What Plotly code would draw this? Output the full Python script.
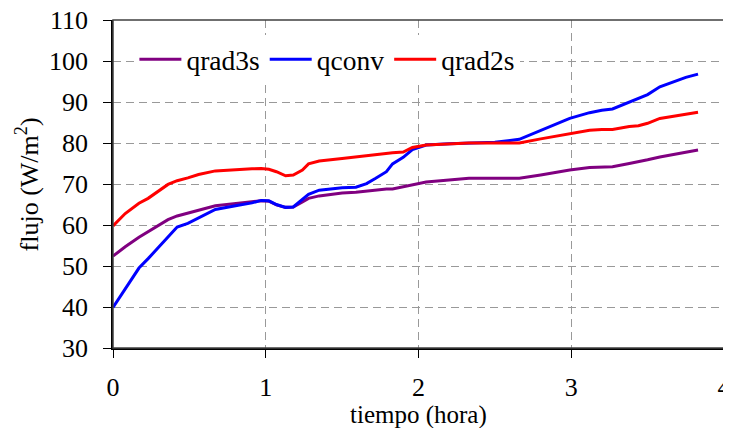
import plotly.graph_objects as go

tiempo = [0, 0.08, 0.17, 0.23, 0.36, 0.42, 0.49, 0.56, 0.67, 0.82, 0.91, 0.97, 1.02, 1.07,
          1.13, 1.18, 1.24, 1.28, 1.35, 1.5, 1.59, 1.66, 1.72, 1.79, 1.83, 1.9, 1.96, 2.05,
          2.2, 2.33, 2.5, 2.66, 2.8, 2.99, 3.12, 3.2, 3.27, 3.38, 3.44, 3.5, 3.58, 3.68,
          3.75, 3.83]

qrad3s = [52.4, 54.7, 57.0, 58.3, 61.3, 62.2, 62.9, 63.6, 64.7, 65.3, 65.6, 65.9, 65.8, 64.9,
          64.3, 64.4, 65.6, 66.5, 67.1, 67.8, 68.0, 68.3, 68.5, 68.8, 68.8, 69.3, 69.8, 70.5,
          71.0, 71.4, 71.4, 71.4, 72.2, 73.4, 74.0, 74.2, 74.2, 75.0, 75.4, 75.9, 76.6, 77.3,
          77.8, 78.3]

qconv = [39.9, 44.5, 49.5, 51.8, 57.0, 59.5, 60.4, 61.8, 63.8, 64.8, 65.4, 66.0, 65.9, 65.0,
         64.3, 64.4, 66.2, 67.5, 68.5, 69.1, 69.2, 70.1, 71.4, 73.0, 74.9, 76.5, 78.4, 79.5,
         79.8, 80.0, 80.2, 80.9, 83.0, 86.0, 87.4, 88.0, 88.3, 89.9, 90.9, 91.8, 93.7, 95.0,
         96.0, 96.8]

qrad2s = [59.8, 62.8, 65.3, 66.5, 69.9, 70.8, 71.5, 72.3, 73.2, 73.4, 73.7, 73.8, 73.6, 73.0,
          72.0, 72.2, 73.4, 74.9, 75.6, 76.2, 76.6, 77.0, 77.2, 77.6, 77.6, 77.8, 78.9, 79.5,
          79.7, 80.0, 80.0, 80.0, 81.0, 82.3, 83.1, 83.3, 83.3, 84.0, 84.2, 84.8, 86.0, 86.6,
          87.0, 87.5]

x_ticks = [0, 1, 2, 3, 4]
y_ticks = [30, 40, 50, 60, 70, 80, 90, 100, 110]

FONT = "Liberation Serif, Times New Roman, serif"
FS = 26

fig = go.Figure()
for name, vals, color in [("qrad3s", qrad3s, "#800080"),
                          ("qconv", qconv, "#0000FF"),
                          ("qrad2s", qrad2s, "#FF0000")]:
    fig.add_trace(go.Scatter(x=tiempo, y=vals, mode="lines", name=name,
                             line=dict(color=color, width=3)))

fig.update_layout(
    width=723, height=420,
    margin=dict(l=105, r=7, t=12, b=80),
    paper_bgcolor="white", plot_bgcolor="white",
    font=dict(family=FONT, size=FS, color="black"),
    showlegend=True,
    legend=dict(orientation="h", x=0.035, y=0.955, xanchor="left", yanchor="top",
                bgcolor="white", font=dict(family=FONT, size=27.5),
                itemwidth=42, tracegroupgap=0),
    shapes=[dict(type="rect", xref="paper", yref="paper", x0=0, y0=0, x1=1, y1=1,
                 line=dict(color="#404040", width=1.5), layer="above")],
    annotations=[
        dict(text="tiempo (hora)", xref="paper", yref="paper", x=0.5, y=-0.205,
             xanchor="center", yanchor="middle", showarrow=False,
             font=dict(family=FONT, size=25)),
        dict(text="flujo (W/m<sup>2</sup>)", xref="paper", yref="paper", x=-0.14, y=0.5,
             xanchor="center", yanchor="middle", showarrow=False, textangle=-90,
             font=dict(family=FONT, size=26)),
    ],
)

fig.update_xaxes(range=[0, 4], tickvals=x_ticks, ticks="outside", ticklen=8,
                 tickcolor="black", showline=True, linecolor="black", linewidth=1.5,
                 showgrid=True, gridcolor="#999999", griddash="8px,5px", gridwidth=1,
                 zeroline=False, tickfont=dict(size=FS), automargin=False,
                 ticklabelstandoff=7, ticklabeloverflow="allow")
fig.update_yaxes(range=[30, 110], tickvals=y_ticks, ticks="outside", ticklen=8,
                 tickcolor="black", showline=True, linecolor="black", linewidth=1.5,
                 showgrid=True, gridcolor="#999999", griddash="8px,5px", gridwidth=1,
                 zeroline=False, tickfont=dict(size=FS), automargin=False,
                 ticklabelstandoff=10, ticklabeloverflow="allow")

fig.write_html("out.html")
